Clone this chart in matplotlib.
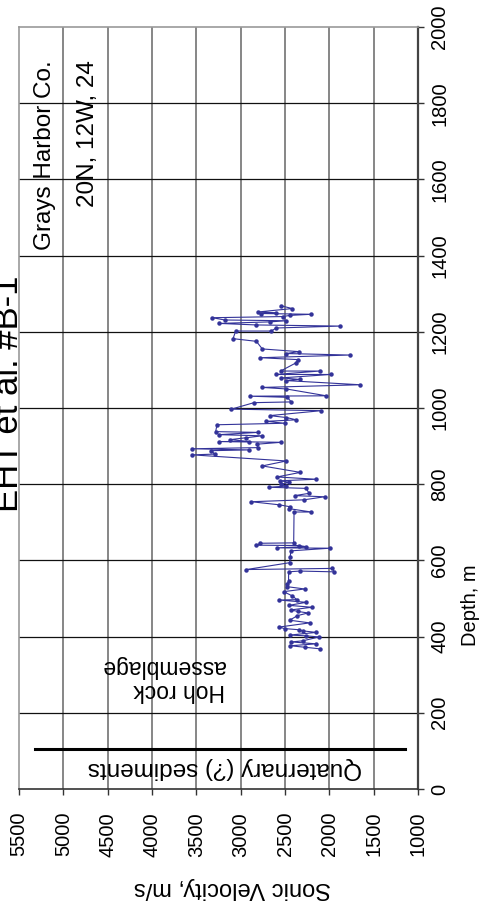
import matplotlib
matplotlib.use("Agg")
import matplotlib.pyplot as plt

plt.rcParams['font.family'] = ['Liberation Sans', 'DejaVu Sans']

depth = [368, 372, 376, 381, 386, 389, 399, 402, 404, 411, 415, 418, 421, 425, 436, 443,
         455, 462, 466, 470, 477, 482, 490, 496, 497, 507, 518, 525, 531, 537, 545, 570,
         572, 570, 579, 576, 594, 610, 625, 632, 633, 636, 639, 640, 645, 646, 727, 727,
         736, 741, 746, 754, 759, 767, 770, 776, 789, 792, 795, 800, 805, 809, 813, 819,
         831, 848, 861, 877, 879, 888, 890, 893, 896, 905, 910, 912, 912, 917, 922, 927,
         930, 936, 938, 956, 960, 965, 969, 975, 980, 993, 997, 1014, 1016, 1028, 1031,
         1032, 1050, 1054, 1061, 1072, 1075, 1079, 1088, 1088, 1097, 1097, 1118, 1127,
         1132, 1139, 1143, 1148, 1155, 1175, 1182, 1202, 1202, 1210, 1215, 1218, 1222,
         1226, 1229, 1231, 1237, 1240, 1243, 1246, 1248, 1250, 1252, 1261, 1268]
velocity = [2109, 2278, 2440, 2147, 2429, 2297, 2117, 2260, 2447, 2147, 2297, 2342, 2504,
            2568, 2222, 2447, 2360, 2241, 2353, 2436, 2196, 2455, 2260, 2568, 2365, 2420,
            2515, 2278, 2474, 2478, 2460, 2459, 2335, 1947, 1966, 2936, 2447, 2440, 2436,
            1996, 2590, 2260, 2342, 2823, 2778, 2402, 2398, 2203, 2459, 2447, 2568, 2880,
            2286, 2053, 2391, 2229, 2260, 2681, 2485, 2541, 2455, 2553, 2147, 2590, 2327,
            2756, 2485, 3545, 3293, 3331, 2906, 3545, 2805, 2816, 2541, 3244, 2906, 3117,
            2936, 2756, 3244, 2805, 3282, 3267, 2504, 2711, 2372, 2485, 2673, 2090, 3105,
            2850, 2429, 2474, 2899, 2034, 2485, 2756, 1651, 2493, 2335, 2541, 1985, 2605,
            2109, 2549, 2380, 2353, 2778, 1771, 2485, 2346, 2756, 2823, 3086, 3056, 2654,
            2600, 1876, 2823, 3244, 2673, 2485, 3180, 3320, 2523, 2447, 2203, 2767, 2598,
            2805, 2417, 2541]

vel_ticks = [5500, 5000, 4500, 4000, 3500, 3000, 2500, 2000, 1500, 1000]
depth_ticks = [0, 200, 400, 600, 800, 1000, 1200, 1400, 1600, 1800, 2000]
contact_depth = 105
contact_vel = [5320, 1147]

W, H = 493, 915
fig = plt.figure(figsize=(W / 100, H / 100), dpi=100)
ax = fig.add_axes([19 / W, 126 / H, 399 / W, 762 / H])
ax.set_xlim(5500, 1000)
ax.set_ylim(0, 2000)
ax.set_xticks(vel_ticks)
ax.set_yticks(depth_ticks)

for v in vel_ticks[1:-1]:
    ax.axvline(v, color='#666666', lw=1.1, zorder=1)
for d in depth_ticks[1:-1]:
    ax.axhline(d, color='#111111', lw=0.9, zorder=1)

ax.plot(velocity, depth, color='#333399', lw=0.8, marker='o', markersize=2.2,
        zorder=3)
ax.plot(contact_vel, [contact_depth, contact_depth], color='black', lw=2.2, zorder=3)

ax.text(3177, 55, 'Quaternary (?) sediments', rotation=180, ha='center', va='center',
        fontsize=17.5)
ax.text(3876, 291, 'Hoh rock\nassemblage', rotation=180, ha='center', va='center',
        multialignment='left', fontsize=16.5, linespacing=1.05)

for s in ['left', 'top']:
    ax.spines[s].set_color('#999999')
    ax.spines[s].set_linewidth(1.2)
ax.spines['right'].set_color('#444444')
ax.spines['right'].set_linewidth(1.6)
ax.spines['bottom'].set_color('#333333')
ax.spines['bottom'].set_linewidth(1.2)

ax.xaxis.tick_bottom()
ax.yaxis.tick_right()
ax.tick_params(axis='x', direction='out', length=4, width=1, color='#333333',
               labelsize=14.5, labelrotation=90, pad=12.5)
ax.tick_params(axis='y', direction='out', length=4, width=1, color='#333333',
               labelsize=14.5, labelrotation=90, pad=5, left=False)
for lab in ax.get_xticklabels():
    lab.set_va('top')
for lab in ax.get_yticklabels():
    lab.set_va('center')

fig.text(232 / W, 1 - 888 / H, 'Sonic Velocity, m/s', rotation=180, ha='center',
         va='center', fontsize=17)
fig.text(470 / W, 1 - 605 / H, 'Depth, m', rotation=90, ha='center', va='center',
         fontsize=14.5)
fig.text(25 / W, 1 - 394 / H, 'EHT et al. #B-1', rotation=90, ha='right', va='center',
         fontsize=25)
fig.text(45 / W, 1 - 60 / H, 'Grays Harbor Co.', rotation=90, ha='center', va='top',
         fontsize=17.5)
fig.text(88 / W, 1 - 60 / H, '20N, 12W, 24', rotation=90, ha='center', va='top',
         fontsize=17.5)

fig.savefig('out.png', dpi=100)
